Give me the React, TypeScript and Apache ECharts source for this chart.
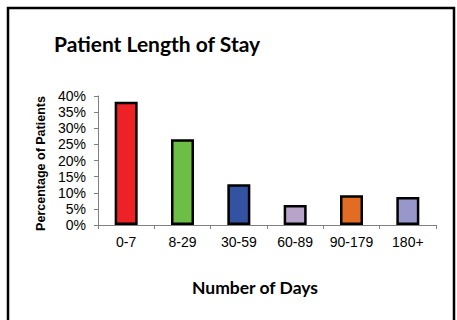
import React, { useEffect, useRef } from "react";
import * as echarts from "echarts";

const categories = ["0-7", "8-29", "30-59", "60-89", "90-179", "180+"];
const values = [38.2, 26.6, 12.6, 6.2, 9.2, 8.7];
const colors = ["#EE2127", "#6CBE45", "#3452A2", "#B8A3C9", "#E36C25", "#9797C9"];
const yTicks = { min: 0, max: 40, interval: 5 };

export default function App() {
  const ref = useRef<HTMLDivElement>(null);
  useEffect(() => {
    const chart = echarts.init(ref.current!, null, { renderer: "svg" });
    chart.setOption({
      animation: false,
      backgroundColor: "#fff",
      title: [
        {
          text: "Patient Length of Stay",
          left: 49,
          top: 28,
          textStyle: { fontFamily: "Lato", fontWeight: "bold", fontSize: 21, color: "#000" },
        },
        {
          text: "Number of Days",
          left: 250,
          textAlign: "center",
          top: 273,
          textStyle: { fontFamily: "Lato", fontWeight: "bold", fontSize: 17.5, color: "#000" },
        },
      ],
      graphic: [
        {
          type: "rect",
          shape: { x: 8, y: 8, width: 446, height: 330 },
          style: { fill: "none", stroke: "#000", lineWidth: 2.5 },
          silent: true,
        },
      ],
      grid: { left: 98, right: 21, top: 96, bottom: 95 },
      xAxis: {
        type: "category",
        data: categories,
        axisLine: { lineStyle: { color: "#808080", width: 1 } },
        axisTick: { show: true, length: 4, lineStyle: { color: "#808080" } },
        axisLabel: { interval: 0, fontFamily: "Liberation Sans", fontSize: 14, color: "#000", margin: 10 },
      },
      yAxis: {
        type: "value",
        min: yTicks.min,
        max: yTicks.max,
        interval: yTicks.interval,
        name: "Percentage of Patients",
        nameLocation: "middle",
        nameGap: 51,
        nameTextStyle: { fontFamily: "Liberation Sans", fontWeight: "bold", fontSize: 12.5, color: "#000", padding: [0, 0, 0, -6] },
        splitLine: { show: false },
        axisLine: { show: true, lineStyle: { color: "#808080", width: 1 } },
        axisTick: { show: true, length: 4, lineStyle: { color: "#808080" } },
        axisLabel: { formatter: "{value}%", fontFamily: "Liberation Sans", fontSize: 14, color: "#000", margin: 12 },
      },
      series: [
        {
          type: "bar",
          barWidth: 23,
          data: values.map((v, i) => ({
            value: v,
            itemStyle: { color: colors[i], borderColor: "#000", borderWidth: 2.5 },
          })),
        },
      ],
    });
    return () => chart.dispose();
  }, []);
  return <div ref={ref} style={{ position: "fixed", left: 0, top: 0, width: 457, height: 320 }} />;
}
